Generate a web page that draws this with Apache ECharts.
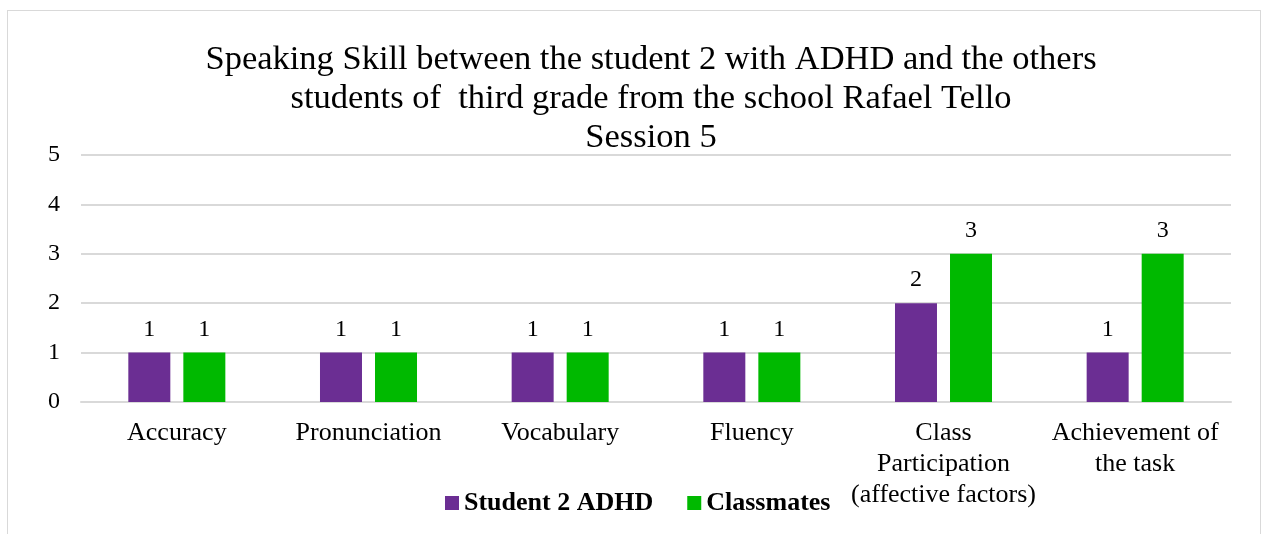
<!DOCTYPE html>
<html><head><meta charset="utf-8">
<script src="https://cdn.jsdelivr.net/npm/echarts@6/dist/echarts.min.js"></script>
<style>
html,body{margin:0;padding:0;background:#fff;}
#frame{position:absolute;left:7px;top:10px;width:1254px;height:540px;border:1px solid #d9d9d9;box-sizing:border-box;}
#c{position:absolute;left:0;top:0;width:1262px;height:534px;}
</style></head>
<body><div id="frame"></div><div id="c"></div>
<script>
const categories = ["Accuracy","Pronunciation","Vocabulary","Fluency","Class\nParticipation\n(affective factors)","Achievement of\nthe task"];
const student2 = [1,1,1,1,2,1];
const classmates = [1,1,1,1,3,3];
const yTicks = [0,1,2,3,4,5];
const titleText = "Speaking Skill between the student 2 with ADHD and the others\nstudents of  third grade from the school Rafael Tello\nSession 5";
const serif = '"Liberation Serif","Times New Roman",serif';
const chart = echarts.init(document.getElementById('c'));
chart.setOption({
  animation:false,
  title:{text:titleText,left:646,textAlign:'center',top:35,textStyle:{fontFamily:serif,fontSize:34.5,fontWeight:'normal',color:'#000',lineHeight:39}},
  legend:{top:485,left:440,itemWidth:14,itemHeight:14,itemGap:34,icon:'rect',textStyle:{fontFamily:serif,fontSize:26,fontWeight:'bold',color:'#000'}},
  grid:{left:81,right:31,top:155,bottom:132,containLabel:false},
  xAxis:{type:'category',data:categories,axisLine:{lineStyle:{color:'#d9d9d9',width:2}},axisTick:{show:false},
    axisLabel:{fontFamily:serif,fontSize:26,color:'#000',lineHeight:31,margin:16,interval:0}},
  yAxis:{type:'value',min:0,max:5,interval:1,axisLine:{show:false},axisTick:{show:false},
    splitLine:{lineStyle:{color:'#d9d9d9',width:2}},
    axisLabel:{fontFamily:serif,fontSize:24,color:'#000',margin:21,formatter:v=>yTicks.includes(v)?String(v):''}},
  series:[
    {name:'Student 2 ADHD',type:'bar',data:student2,barWidth:42,barGap:'31%',itemStyle:{color:'#6b2e93'},
     label:{show:true,position:'top',distance:11,fontFamily:serif,fontSize:24,color:'#000'}},
    {name:'Classmates',type:'bar',data:classmates,barWidth:42,itemStyle:{color:'#00b900'},
     label:{show:true,position:'top',distance:11,fontFamily:serif,fontSize:24,color:'#000'}}
  ]
});
</script></body></html>
